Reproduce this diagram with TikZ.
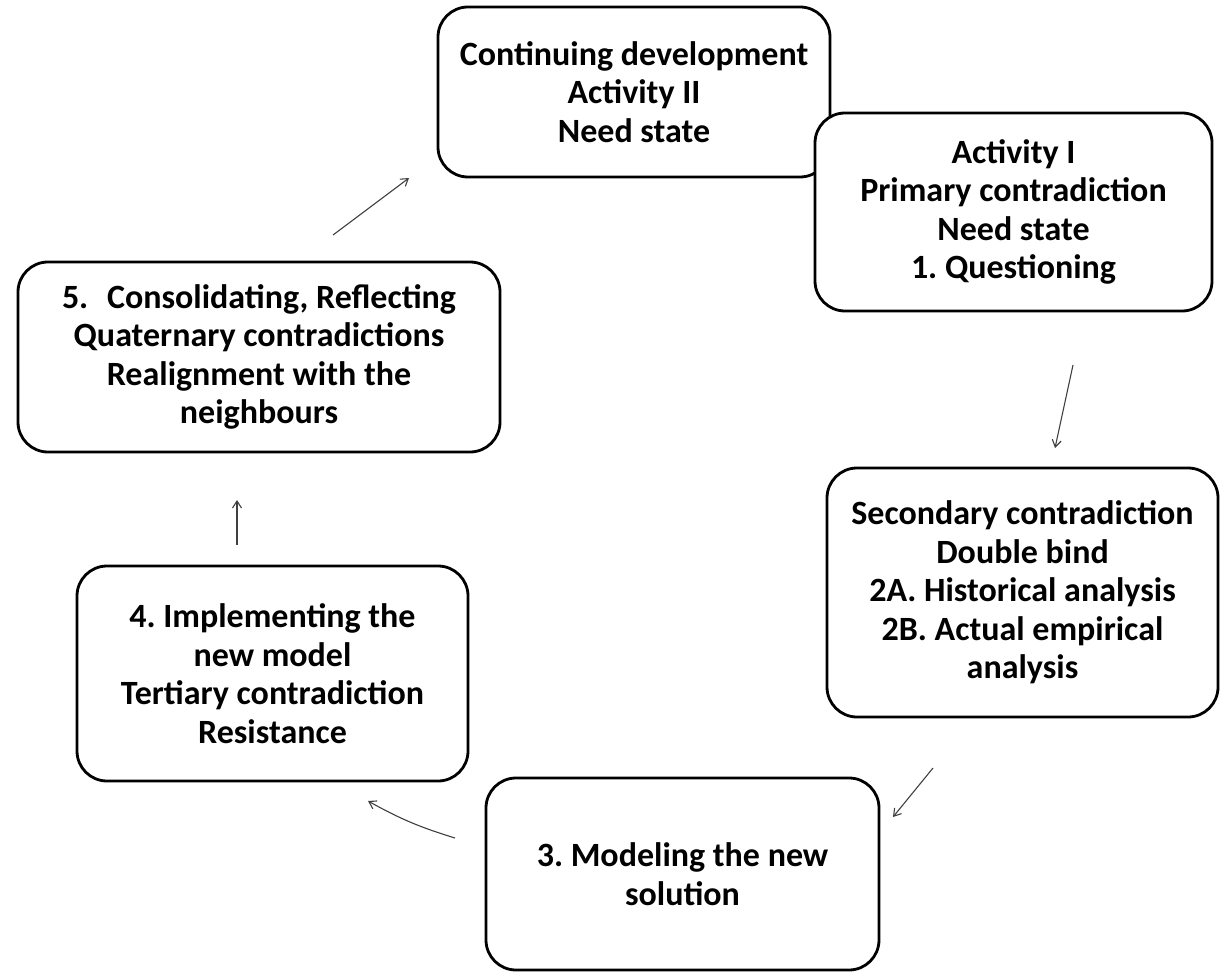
\documentclass[tikz,border=0pt]{standalone}
\usepackage{fontspec}
\setmainfont{Carlito}
\usetikzlibrary{arrows.meta}
\frenchspacing
\begin{document}
\begin{tikzpicture}[x=1pt,y=-1pt,
  box/.style={draw=black, line width=2.8pt, rounded corners=30pt, fill=white,
    align=center, font=\fontsize{34}{38.5}\selectfont\bfseries, inner sep=0pt},
  flow/.style={draw=black!75, line width=1.1pt, -{Straight Barb[length=7pt,width=9pt]}}]
\useasboundingbox (0,0) rectangle (1223,976);
% boxes
\node[box, minimum width=392pt, minimum height=170pt] (top) at (634,92)
  {Continuing development\\Activity II\\Need state};
\node[box, minimum width=397pt, minimum height=198pt] (act) at (1013.5,212)
  {Activity I\\Primary contradiction\\Need state\\1. Questioning};
\node[box, minimum width=482pt, minimum height=190pt] (five) at (259,357)
  {5.\hspace{0.55em}Consolidating, Reflecting\\Quaternary contradictions\\Realignment with the\\neighbours};
\node[box, minimum width=391pt, minimum height=249pt] (sec) at (1022.5,592.5)
  {Secondary contradiction\\Double bind\\2A. Historical analysis\\2B. Actual empirical\\analysis};
\node[box, minimum width=391pt, minimum height=215pt] (four) at (272.5,673.5)
  {4. Implementing the\\new model\\Tertiary contradiction\\Resistance};
\node[box, minimum width=393pt, minimum height=192pt] (three) at (682.5,874)
  {3. Modeling the new\\solution};
% arrow ends
\coordinate (a1s) at (333,235); \coordinate (a1e) at (409,178);
\coordinate (a2s) at (1073,365); \coordinate (a2e) at (1055,448);
\coordinate (a3s) at (933,768); \coordinate (a3e) at (893,817);
\coordinate (a4s) at (455,838); \coordinate (a4e) at (368,801);
\coordinate (a5s) at (237,545); \coordinate (a5e) at (237,500);
\draw[flow] (a1s) -- (a1e);
\draw[flow] (a2s) -- (a2e);
\draw[flow] (a3s) -- (a3e);
\draw[flow] (a4s) to[bend left=6] (a4e);
\draw[flow] (a5s) -- (a5e);
\end{tikzpicture}
\end{document}
